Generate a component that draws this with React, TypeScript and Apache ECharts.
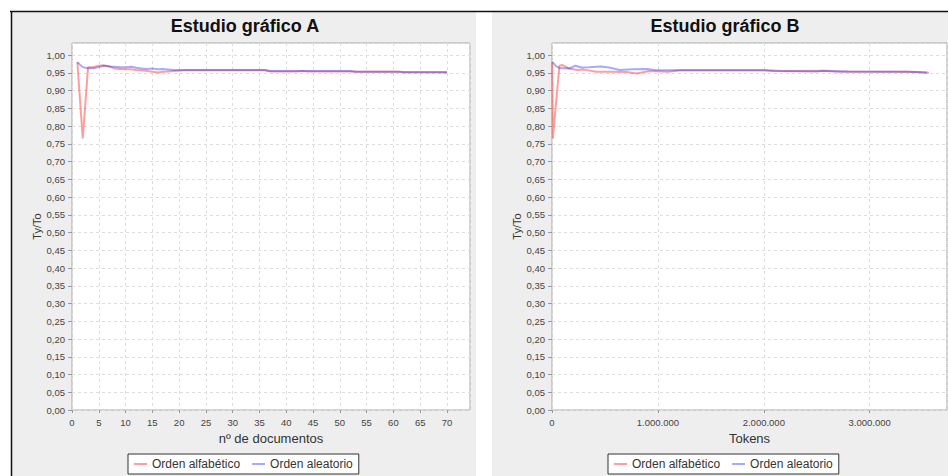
import React, { useEffect, useRef } from "react";
import * as echarts from "echarts";

const seriesNames = ["Orden alfabético", "Orden aleatorio"];

// Chart A: x = nº de documentos (1..70)
const docsA = Array.from({ length: 70 }, (_, i) => i + 1);
const alphaA = [
  0.98, 0.765, 0.966, 0.966, 0.97, 0.971, 0.968, 0.962, 0.961, 0.96,
  0.96, 0.958, 0.957, 0.955, 0.953, 0.951, 0.953, 0.954, 0.955, 0.956,
  0.957, 0.957, 0.957, 0.957, 0.957, 0.957, 0.957, 0.957, 0.957, 0.957,
  0.957, 0.957, 0.957, 0.957, 0.957, 0.957, 0.954, 0.954, 0.954, 0.954,
  0.954, 0.954, 0.955, 0.954, 0.954, 0.954, 0.954, 0.954, 0.954, 0.954,
  0.954, 0.954, 0.953, 0.953, 0.953, 0.953, 0.953, 0.953, 0.953, 0.953,
  0.953, 0.951, 0.951, 0.951, 0.951, 0.951, 0.951, 0.951, 0.951, 0.95,
];
const randA = [
  0.98, 0.966, 0.963, 0.963, 0.966, 0.97, 0.968, 0.967, 0.966, 0.966,
  0.967, 0.964, 0.962, 0.961, 0.962, 0.96, 0.961, 0.959, 0.958, 0.958,
  0.958, 0.958, 0.958, 0.958, 0.958, 0.958, 0.958, 0.958, 0.958, 0.958,
  0.958, 0.958, 0.958, 0.958, 0.958, 0.958, 0.955, 0.955, 0.955, 0.955,
  0.955, 0.955, 0.955, 0.955, 0.955, 0.955, 0.955, 0.955, 0.955, 0.955,
  0.955, 0.955, 0.953, 0.953, 0.953, 0.953, 0.953, 0.953, 0.953, 0.953,
  0.953, 0.952, 0.952, 0.952, 0.952, 0.952, 0.952, 0.952, 0.952, 0.952,
];

// Chart B: x = Tokens (cumulative)
const alphaBTokens = [
  2000, 8000, 70000, 100000, 160000, 240000, 300000, 420000, 550000, 700000,
  800000, 920000, 1100000, 1200000, 2000000, 2200000, 2540000, 2700000, 3350000, 3450000, 3560000,
];
const alphaBValues = [
  0.98, 0.765, 0.97, 0.972, 0.962, 0.958, 0.959, 0.953, 0.953, 0.952,
  0.948, 0.955, 0.953, 0.957, 0.957, 0.955, 0.956, 0.953, 0.953, 0.952, 0.95,
];
const randBTokens = [
  3000, 40000, 75000, 170000, 220000, 280000, 350000, 460000, 540000, 640000,
  760000, 900000, 980000, 1400000, 2000000, 2100000, 2500000, 2570000, 2800000, 3350000, 3540000,
];
const randBValues = [
  0.981, 0.968, 0.963, 0.963, 0.97, 0.965, 0.966, 0.968, 0.965, 0.958,
  0.96, 0.961, 0.957, 0.957, 0.957, 0.955, 0.954, 0.956, 0.954, 0.953, 0.951,
];

const FONT = "Liberation Sans, Arial, sans-serif";
const RED = "rgba(255,40,40,0.45)";
const BLUE = "rgba(40,40,255,0.4)";

const zip = (xs: number[], ys: number[]) => xs.map((x, i) => [x, ys[i]]);
const fmtY = (v: number) => v.toFixed(2).replace(".", ",");
const fmtTokens = (v: number) =>
  Math.round(v).toString().replace(/\B(?=(\d{3})+(?!\d))/g, ".");

export default function App() {
  const ref = useRef<HTMLDivElement>(null);
  useEffect(() => {
    if (!ref.current) return;
    const chart = echarts.init(ref.current, undefined, { renderer: "svg" });
    const gridCommon = {
      show: true,
      backgroundColor: "#ffffff",
      borderColor: "#a8a8a8",
      borderWidth: 1,
      containLabel: false,
    };
    const splitLine = {
      show: true,
      lineStyle: { color: "#dedede", type: [3, 3] as any, width: 1 },
    };
    const axisLabel = { fontFamily: FONT, fontSize: 9.5, color: "#444" };
    const yAxisBase = (gridIndex: number) => ({
      type: "value" as const,
      gridIndex,
      min: 0,
      max: 1.034,
      interval: 0.05,
      name: "Ty/To",
      nameLocation: "middle" as const,
      nameGap: 28,
      nameTextStyle: { fontFamily: FONT, fontSize: 11, color: "#333" },
      axisLine: { show: false },
      axisTick: { show: true, length: 4, lineStyle: { color: "#999" } },
      axisLabel: { ...axisLabel, margin: 7, showMaxLabel: false, formatter: fmtY },
      splitLine,
    });
    const lineSeries = (name: string, color: string, x: number, y: number, data: number[][]) => ({
      type: "line" as const,
      name,
      xAxisIndex: x,
      yAxisIndex: y,
      data,
      showSymbol: false,
      symbol: "none",
      color,
      lineStyle: { color, width: 2 },
    });
    const legendBase = {
      data: seriesNames,
      icon: "rect",
      itemWidth: 13,
      itemHeight: 2,
      itemGap: 12,
      itemTextGap: 5,
      padding: [4, 6],
      borderColor: "#333",
      borderWidth: 1,
      backgroundColor: "#ffffff",
      borderRadius: 0,
      textStyle: { fontFamily: FONT, fontSize: 12, color: "#333" },
      top: 454,
    };
    chart.setOption({
      animation: false,
      backgroundColor: "#ffffff",
      graphic: [
        { type: "rect", z: -10, shape: { x: 12, y: 12, width: 464, height: 470 }, style: { fill: "#eeeeee" } },
        { type: "rect", z: -10, shape: { x: 492, y: 12, width: 470, height: 470 }, style: { fill: "#eeeeee" } },
        { type: "line", z: 10, shape: { x1: 10, y1: 11.5, x2: 948, y2: 11.5 }, style: { stroke: "#111", lineWidth: 1.5 } },
        { type: "line", z: 10, shape: { x1: 11.5, y1: 11, x2: 11.5, y2: 476 }, style: { stroke: "#111", lineWidth: 1.5 } },
      ],
      title: [
        {
          text: "Estudio gráfico A",
          left: 245,
          top: 17,
          textAlign: "center",
          padding: 0,
          textStyle: { fontFamily: FONT, fontSize: 18, fontWeight: "bold", color: "#111" },
        },
        {
          text: "Estudio gráfico B",
          left: 725,
          top: 17,
          textAlign: "center",
          padding: 0,
          textStyle: { fontFamily: FONT, fontSize: 18, fontWeight: "bold", color: "#111" },
        },
      ],
      legend: [
        { ...legendBase, left: 128 },
        { ...legendBase, left: 608 },
      ],
      grid: [
        { ...gridCommon, left: 72, top: 43, width: 398, height: 367 },
        { ...gridCommon, left: 552, top: 43, width: 395, height: 367 },
      ],
      xAxis: [
        {
          type: "value",
          gridIndex: 0,
          min: 0,
          max: 74.3,
          interval: 5,
          name: "nº de documentos",
          nameLocation: "middle",
          nameGap: 22,
          nameTextStyle: { fontFamily: FONT, fontSize: 13, color: "#333" },
          axisLine: { show: false },
          axisTick: { show: true, length: 3, lineStyle: { color: "#999" } },
          axisLabel: { ...axisLabel, margin: 7, showMaxLabel: false },
          splitLine,
        },
        {
          type: "value",
          gridIndex: 1,
          min: 0,
          max: 3730000,
          interval: 1000000,
          name: "Tokens",
          nameLocation: "middle",
          nameGap: 22,
          nameTextStyle: { fontFamily: FONT, fontSize: 13, color: "#333" },
          axisLine: { show: false },
          axisTick: { show: true, length: 3, lineStyle: { color: "#999" } },
          axisLabel: { ...axisLabel, margin: 7, showMaxLabel: false, formatter: fmtTokens },
          splitLine,
        },
      ],
      yAxis: [yAxisBase(0), yAxisBase(1)],
      series: [
        lineSeries(seriesNames[0], RED, 0, 0, zip(docsA, alphaA)),
        lineSeries(seriesNames[1], BLUE, 0, 0, zip(docsA, randA)),
        lineSeries(seriesNames[0], RED, 1, 1, zip(alphaBTokens, alphaBValues)),
        lineSeries(seriesNames[1], BLUE, 1, 1, zip(randBTokens, randBValues)),
      ],
    });
    return () => chart.dispose();
  }, []);
  return (
    <div
      ref={ref}
      style={{ position: "fixed", left: 0, top: 0, width: 948, height: 476 }}
    />
  );
}
